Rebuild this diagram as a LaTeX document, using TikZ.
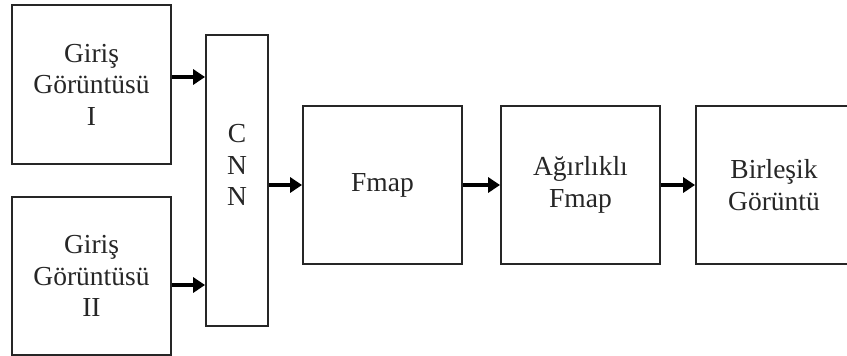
\documentclass[tikz,border=0pt]{standalone}
\usepackage{fontspec}
\setmainfont{Liberation Serif}
\usetikzlibrary{arrows.meta}
\begin{document}
\begin{tikzpicture}[x=1pt,y=-1pt,
  box/.style={draw=black!85,line width=1.8pt,rectangle,inner sep=0pt,align=center,
    font=\fontsize{27.5}{31.5}\selectfont,text=black!85},
  txt/.style={inner sep=0pt,align=center,font=\fontsize{27.5}{31.5}\selectfont,text=black!85},
  arr/.style={line width=4pt,draw=black,-{Triangle[length=12pt,width=15pt]}}]
\useasboundingbox (0,0) rectangle (847,356);
\node[box,minimum width=159pt,minimum height=159pt] (b1) at (91.5,84.5) {Giriş\\Görüntüsü\\I};
\node[box,minimum width=159pt,minimum height=158pt] (b2) at (91.5,276) {Giriş\\Görüntüsü\\II};
\node[box,minimum width=62pt,minimum height=291pt] (cnn) at (237,180.5) {};
\node[txt] (cnnt) at (237,165) {C\\N\\N};
\node[box,minimum width=159pt,minimum height=158pt] (fmap) at (382.5,185) {Fmap};
\node[box,minimum width=159pt,minimum height=158pt] (wf) at (580.5,185) {Ağırlıklı\\Fmap};
\node[box,minimum width=164pt,minimum height=158pt] (bg) at (778,185) {\hspace*{-8pt}Birleşik\\\hspace*{-8pt}Görüntü};
\draw[arr] ([yshift=7.5pt]b1.east) -- ([yshift=7.5pt]b1.east -| cnn.west);
\draw[arr] ([yshift=-9pt]b2.east) -- ([yshift=-9pt]b2.east -| cnn.west);
\draw[arr] (cnn.east |- fmap.west) -- (fmap.west);
\draw[arr] (fmap.east) -- (wf.west);
\draw[arr] (wf.east) -- (bg.west);
\end{tikzpicture}
\end{document}
